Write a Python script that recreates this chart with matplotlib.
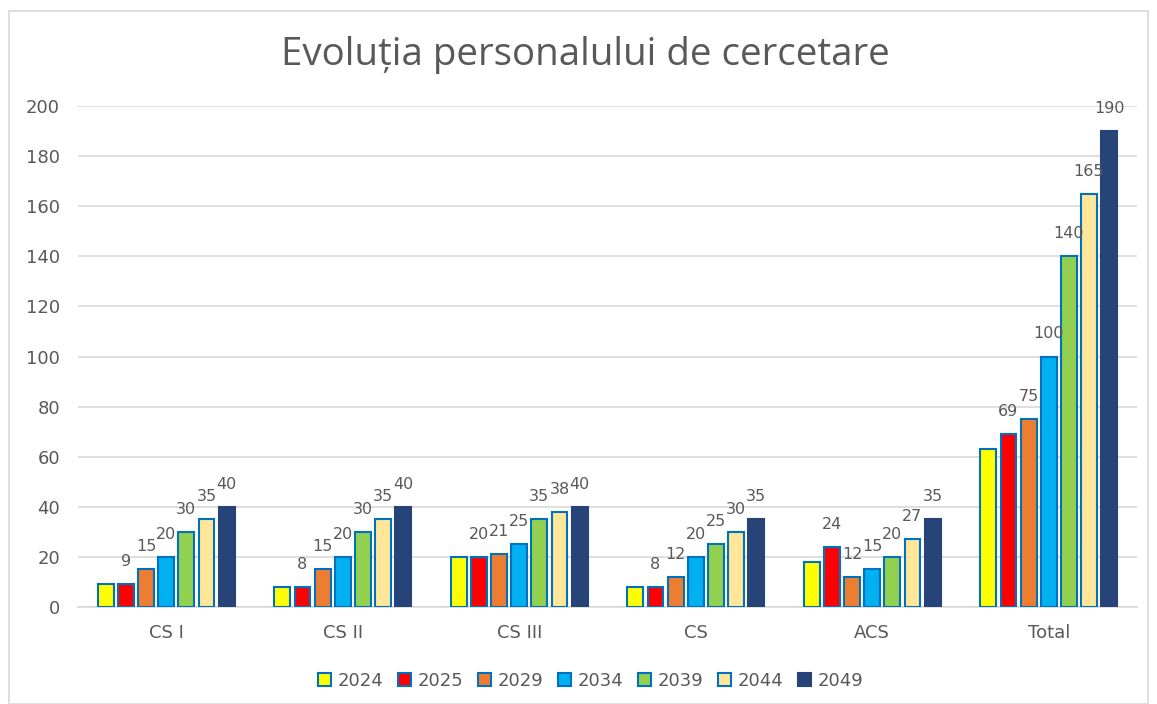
import matplotlib.pyplot as plt
import numpy as np
from matplotlib.patches import Rectangle

# Data
categories = ["CS I", "CS II", "CS III", "CS", "ACS", "Total"]
years = ["2024", "2025", "2029", "2034", "2039", "2044", "2049"]
v2024 = [9, 8, 20, 8, 18, 63]
v2025 = [9, 8, 20, 8, 24, 69]
v2029 = [15, 15, 21, 12, 12, 75]
v2034 = [20, 20, 25, 20, 15, 100]
v2039 = [30, 30, 35, 25, 20, 140]
v2044 = [35, 35, 38, 30, 27, 165]
v2049 = [40, 40, 40, 35, 35, 190]
series = [v2024, v2025, v2029, v2034, v2039, v2044, v2049]

colors = ["#FFFF00", "#FF0000", "#ED7D31", "#00B0F0", "#92D050", "#FFE699", "#264478"]
edges = ["#0070C0"] * 6 + ["#264478"]
# 2024 bars carry no value labels in the original
show_labels = [False, True, True, True, True, True, True]

fig = plt.figure(figsize=(11.57, 7.04), dpi=100)
ax = fig.add_axes([0.0674, 0.1378, 0.9153, 0.7116])

x = np.arange(len(categories))
slot = 0.114
width = 0.09
txt = "#595959"

for i, vals in enumerate(series):
    pos = x + (i - 3) * slot
    bars = ax.bar(pos, vals, width, color=colors[i], edgecolor=edges[i],
                  linewidth=1.5, label=years[i], zorder=3)
    if show_labels[i]:
        for b, v in zip(bars, vals):
            ax.text(b.get_x() + b.get_width() / 2, v + 6, str(v), ha="center",
                    va="bottom", fontsize=11.5, color=txt, zorder=4)

ax.set_xlim(-0.5, len(categories) - 0.5)
ax.set_ylim(0, 200)
ax.set_yticks(range(0, 201, 20))
ax.set_xticks(x)
ax.set_xticklabels(categories)
ax.tick_params(axis="both", length=0, labelsize=13, colors=txt)
ax.tick_params(axis="y", pad=13)
ax.tick_params(axis="x", pad=12)
ax.grid(axis="y", color="#D9D9D9", linewidth=1.2, zorder=0)
for s in ["top", "right", "left"]:
    ax.spines[s].set_visible(False)
ax.spines["bottom"].set_color("#D9D9D9")
ax.spines["bottom"].set_linewidth(1.2)

fig.text(0.506, 0.922, "Evoluția personalului de cercetare", ha="center",
         va="center", fontsize=27.7, color=txt, family="Open Sans")

ax.legend(loc="center", bbox_to_anchor=(0.484, -0.147), ncol=7, frameon=False,
          fontsize=13, labelcolor=txt, handlelength=0.75, handleheight=0.75,
          handletextpad=0.35, columnspacing=0.8)

# light frame around the whole chart
fig.patches.append(Rectangle((9 / 1157, 0.0), 1 - 18 / 1157, 1 - 11 / 704,
                             transform=fig.transFigure, fill=False,
                             edgecolor="#D9D9D9", linewidth=1.2))

fig.savefig("out.png", dpi=100)
